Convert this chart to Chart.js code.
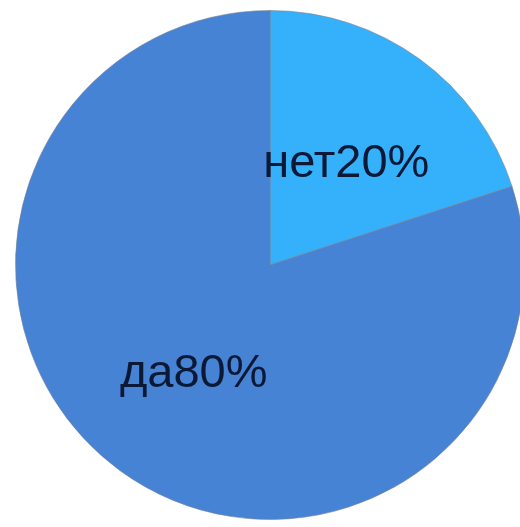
<!DOCTYPE html>
<html>
<head>
<meta charset="utf-8">
<script src="https://cdn.jsdelivr.net/npm/chart.js@4"></script>
<style>
    html, body { margin: 0; padding: 0; background: #fff; overflow: hidden; }
    #wrap { width: 530px; height: 527px; position: relative; }
</style>
</head>
<body>
<div id="wrap"><canvas id="pieChart"></canvas></div>
<script>
// chart data
const labels = ['нет', 'да'];
const values = [20, 80];
const colors = ['#35b1fc', '#4683d4'];

// draws "нет20%" style labels in the middle of each slice
const sliceLabels = {
    id: 'sliceLabels',
    afterDatasetsDraw(chart) {
        const ctx = chart.ctx;
        const meta = chart.getDatasetMeta(0);
        const total = values.reduce((a, b) => a + b, 0);
        ctx.save();
        ctx.fillStyle = '#0b1836';
        ctx.font = '47px "Liberation Sans", Arial, sans-serif';
        ctx.textAlign = 'center';
        ctx.textBaseline = 'middle';
        meta.data.forEach((arc, i) => {
            const p = arc.getProps(['x', 'y', 'startAngle', 'endAngle', 'outerRadius']);
            const mid = (p.startAngle + p.endAngle) / 2;
            const r = p.outerRadius * 0.51;
            const text = labels[i] + Math.round(values[i] / total * 100) + '%';
            ctx.fillText(text, p.x + Math.cos(mid) * r, p.y + Math.sin(mid) * r + 4);
        });
        ctx.restore();
    }
};

document.addEventListener('DOMContentLoaded', function () {
    const ctx = document.getElementById('pieChart');
    new Chart(ctx, {
        type: 'pie',
        data: {
            labels: labels,
            datasets: [{
                data: values,
                backgroundColor: colors,
                borderColor: 'rgba(120, 130, 150, 0.6)',
                borderWidth: 1
            }]
        },
        options: {
            responsive: true,
            maintainAspectRatio: false,
            animation: false,
            layout: { padding: { left: 15, right: 5, top: 10, bottom: 7 } },
            plugins: {
                legend: { display: false },
                tooltip: { enabled: false }
            }
        },
        plugins: [sliceLabels]
    });
});
</script>
</body>
</html>
